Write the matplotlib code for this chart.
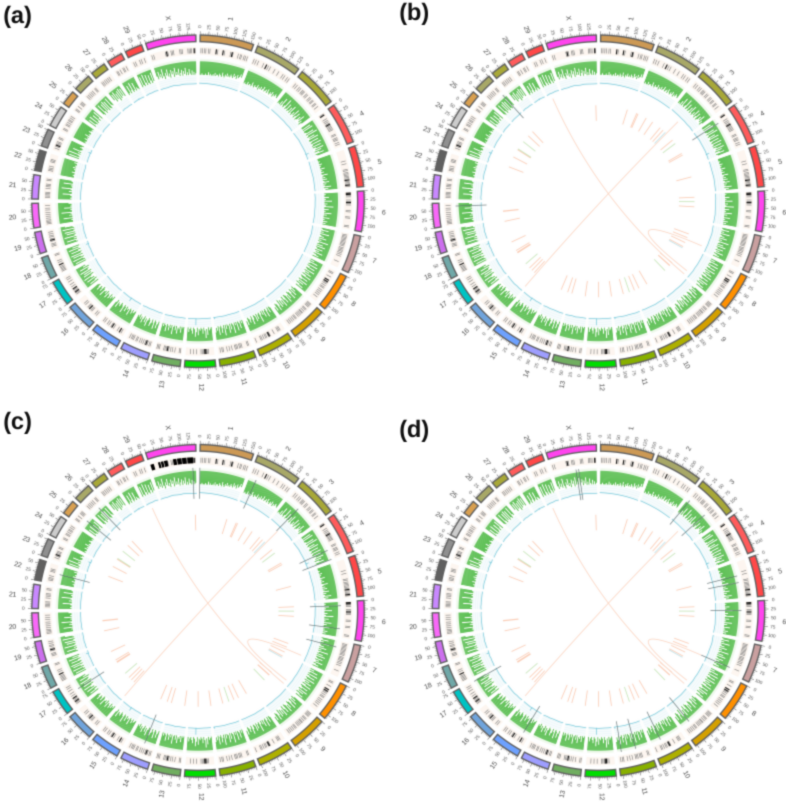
import numpy as np
import matplotlib
matplotlib.use("Agg")
import matplotlib.pyplot as plt

plt.rcParams['font.family'] = ['Liberation Sans', 'DejaVu Sans']

W, H = 787, 803
RMAX = 195.0

chrom_names = ['1','2','3','4','5','6','7','8','9','10','11','12','13','14','15','16','17','18','19','20',
               '21','22','23','24','25','26','27','28','29','X']
chrom_mb = [158,137,121,121,121,119,112,113,105,104,107,91,84,84,85,81,75,66,64,72,71,61,52,62,43,52,45,46,51,148]
chrom_colors = ['#CC9955','#A8A868','#A8A838','#FF5C5C','#FF4848','#FF44EE','#C9A0A0','#FF9000','#D4A000','#AEB000',
                '#88B000','#00DD00','#70AE60','#9E9EFF','#6EA2FF','#70A4DC','#00C4C4','#70A8A8','#CC70EE','#F868F8',
                '#C888FF','#606060','#909090','#CCCCCC','#D9A050','#A8A868','#A8A838','#FF5C5C','#FF4848','#FF44EE']

panel_names = ['(a)', '(b)', '(c)', '(d)']
panel_cx = [198.0, 598.5, 198.0, 598.5]
panel_cy = [201.5, 201.5, 611.0, 611.0]
label_x = [3, 399, 3, 399]
label_y = [17, 14, 423, 431]

# Green histogram track: one depth level (0-9) per step along each chromosome
green_1 = [9,9,8,9,9,9,8,9,9,7,9,8,9,9,8,9,7,9,8,8,9,7,8,9,6,8,9,7,8,6,8,7,8,6,7,8,5,7,6,8,5,7,6,4,6]
green_2 = [9,8,9,9,7,9,8,8,9,6,8,9,7,8,8,6,9,7,8,6,8,7,5,8,7,6,8,5,7,8,6,7,5,8,6,7,5,6,7]
green_3 = [9,8,9,6,9,3,8,9,7,2,9,8,4,9,8,5,9,3,8,9,6,8,3,9,7,4,9,8,5,7,3,8,6,9,7]
green_4 = [9,9,3,9,2,9,9,8,3,9,1,8,9,4,8,2,9,9,3,8,9,2,8,9,3,9,7,2,8,4,9,6,3,9,8]
green_5 = [9,9,9,8,9,9,7,9,8,9,9,6,9,8,9,7,9,9,5,8,9,7,9,6,9,8,5,9,7,9,8,4,9,6,8]
green_6 = [9,8,9,9,6,9,8,9,4,9,9,7,9,8,3,9,9,6,9,8,9,4,9,7,9,9,5,9,8,9,6,9,7,9]
green_7 = [9,8,4,9,7,9,3,9,8,6,9,4,9,7,9,2,8,9,5,9,3,9,8,4,9,6,8,3,9,7,5,9]
green_8 = [9,6,9,3,8,9,2,9,7,3,9,8,2,9,5,8,3,9,6,2,9,8,3,7,9,2,8,4,9,6,3,8]
green_9 = [7,9,5,8,3,9,6,2,8,9,4,7,2,8,9,3,6,9,2,7,4,8,3,9,5,2,7,8,3,6]
green_10 = [8,9,5,9,7,3,9,8,4,9,6,9,7,2,9,8,5,9,4,8,9,6,3,9,7,5,8,9,4,7]
green_11 = [9,7,9,4,8,9,3,9,7,9,2,8,9,5,9,3,8,9,6,9,2,9,7,4,9,8,3,9,6,8,5]
green_12 = [9,8,7,9,4,8,2,7,9,5,8,9,7,8,4,9,6,3,8,9,5,7,9,8,6,9]
green_13 = [9,8,9,5,9,7,8,4,9,6,9,8,3,9,7,9,5,8,9,4,8,9,7,9]
green_14 = [9,7,4,8,9,3,7,9,6,4,8,9,7,3,8,5,9,7,4,8,6,9,7,8]
green_15 = [9,8,7,9,6,8,9,4,8,7,9,5,8,9,3,7,8,9,6,7,8,4,9,7]
green_16 = [9,7,8,6,9,5,7,8,4,9,6,8,7,3,8,9,5,7,8,4,6,8,7]
green_17 = [9,3,7,9,2,8,6,1,7,9,2,8,3,9,1,7,8,2,9,5,7]
green_18 = [9,2,9,8,1,9,7,2,9,1,8,9,2,7,9,1,8,4,9]
green_19 = [9,8,2,9,7,9,1,8,9,3,9,2,8,9,1,9,8,3]
green_20 = [9,9,8,9,3,9,9,7,9,8,2,9,9,8,9,4,9,8,9,9,7]
green_21 = [9,8,9,9,8,3,9,9,7,9,8,2,9,9,8,9,3,9,9,8]
green_22 = [9,9,8,9,9,7,9,9,8,9,7,9,8,9,9,7,9]
green_23 = [9,2,9,8,1,9,7,9,3,8,9,9,7,8,9]
green_24 = [9,8,9,9,7,9,8,9,6,9,8,9,9,7,8,9,8,9]
green_25 = [9,3,8,9,2,9,8,3,9,7,2,9]
green_26 = [8,9,1,7,9,2,8,1,9,2,8,9,1,7,8]
green_27 = [6,2,8,1,7,3,9,2,8,1,7,2,8]
green_28 = [9,8,3,9,7,2,9,8,3,9,7,8,9]
green_29 = [9,2,8,9,1,7,9,2,8,9,3,7,9,2,8]
green_X = [6,8,3,7,5,8,2,7,9,5,7,3,8,6,9,4,7,5,9,3,8,6,8,4,9,7,5,9,6,8,4,9,7,9,5,8,9,6,9,7,9,8]
green_tracks = [green_1,green_2,green_3,green_4,green_5,green_6,green_7,green_8,green_9,green_10,green_11,green_12,
                green_13,green_14,green_15,green_16,green_17,green_18,green_19,green_20,green_21,green_22,green_23,
                green_24,green_25,green_26,green_27,green_28,green_29,green_X]

# Barcode track: positions in Mb
bar_1 = [3,8,14,19,27,32,52,57,74,79,98,103,106,123,130,134,142,147,153]
bar_2 = [5,12,20,38,48,55,62,78,92,108,115,125,132]
bar_3 = [8,15,24,30,38,42,46,55,60,70,75,82,86,95,99,108]
bar_4 = [4,8,22,28,33,38,42,46,50,54,58,62,78,82,90,94,98,106,112]
bar_5 = [35,44,62,66,72,76,80,84,88,92,96,100,104,108,112,116]
bar_6 = [4,8,12,16,26,30,34,38,42,60,64,80,84,108,112]
bar_7 = [6,10,14,18,22,26,30,34,38,42,48,52,56,60,65,70,76,94]
bar_8 = [8,12,24,36,42,46,50,56,62,66,74,80,86,92,100]
bar_9 = [5,9,13,17,26,30,36,42,45,50,55,60,68,72,78,84,90,96]
bar_10 = [14,18,22,36,50,53,56,62,66,72,78,82,98]
bar_11 = [8,12,30,34,38,44,48,52,62,70,78,90,94,100]
bar_12 = [18,22,26,30,34,38,42,56,66,76]
bar_13 = [4,8,22,30,36,42,46,50,54,58,72,76,80]
bar_14 = [6,10,16,20,24,30,36,42,50,54,62,66,70,76]
bar_15 = [10,16,24,38,44,48,56,62,72,78]
bar_16 = [8,14,28,32,38,42,46,56,62]
bar_17 = [6,10,14,18,22,26,34,42,52,60,66]
bar_18 = [4,8,12,16,20,26,34,40,58,62]
bar_19 = [10,14,18,26,30,34,40,44,50,56]
bar_20 = [6,10,14,18,24,30,36,42,50,56,64]
bar_21 = [6,10,14,18,22,34,40,44,48,60,64]
bar_22 = [8,12,16,22,36,40,44]
bar_23 = [8,14,18,22,26,30,40,44]
bar_24 = [8,12,24,28,34,40,44,50,56]
bar_25 = [6,10,20,30,34,38]
bar_26 = [6,12,18,24,30,40,44]
bar_27 = [5,10,16,22,28,34]
bar_28 = [6,10,18,28,32,40]
bar_29 = [8,14,28,34,44]
bar_X = [6,12,50,54,58,68,72,76,96,100,104,122,126,130,134,142,145]
bar_tracks = [bar_1,bar_2,bar_3,bar_4,bar_5,bar_6,bar_7,bar_8,bar_9,bar_10,bar_11,bar_12,bar_13,bar_14,bar_15,
              bar_16,bar_17,bar_18,bar_19,bar_20,bar_21,bar_22,bar_23,bar_24,bar_25,bar_26,bar_27,bar_28,bar_29,bar_X]
dark_chrom = [1,1,1,2,4,4,5,5,6,6,6,8,8,10,12,12,13,14,15,15,16,17,17,18,19,23,30,30]
dark_mb = [52,74,103,48,8,42,96,112,4,8,34,36,42,53,26,30,46,20,16,44,38,14,26,26,30,18,54,142]

# Panel (c): the heavy black blocks on chromosome X
c_x_start = [2,27,36,46,75,88,104,120]
c_x_end = [13,34,44,57,86,102,118,139]

# Blue line track: height above the inner edge of its ring
blue_1 = [1.6,1.5,1.4,1.3,1.2,1.1,1.0,0.9,0.8,0.7]
blue_2 = [1.2,1.0,0.9,0.8,0.8,0.7,0.6,0.6]
blue_3 = [1.0,0.8,0.8,0.7,0.9,0.7,1.1,0.8]
blue_4 = [0.8,1.0,1.4,1.2,1.3,1.4,1.2,1.0]
blue_5 = [1.2,1.0,0.9,1.0,1.2,1.0,0.9,1.0]
blue_6 = [0.6,0.8,0.6,0.7,0.6,0.9,0.7,0.6]
blue_7 = [0.8,1.0,1.4,1.2,1.0,1.1,0.9,1.0]
blue_8 = [0.7,0.8,0.8,0.9,0.7,1.0,0.8,0.7]
blue_9 = [0.9,1.0,1.2,1.0,0.8,1.0,0.9,1.1]
blue_10 = [0.8,1.0,0.9,1.2,1.0,0.9,1.0,0.8]
blue_11 = [1.0,1.2,1.0,0.9,1.1,1.0,0.8,1.0]
blue_12 = [1.0,1.0,0.9,1.0,1.1,1.0,0.9,1.0]
blue_13 = [1.2,1.0,1.0,1.4,1.0,1.2,1.5]
blue_14 = [1.0,1.2,1.0,0.9,1.2,1.0,1.4]
blue_15 = [1.2,1.0,1.2,1.0,1.3,1.2,1.1,1.0]
blue_16 = [1.0,1.2,1.0,1.4,1.2,1.0,0.9]
blue_17 = [1.0,1.4,1.2,1.0,1.2,1.0,0.9]
blue_18 = [1.4,1.2,1.2,1.0,1.4,1.0,0.9]
blue_19 = [1.0,1.2,1.1,1.4,1.2,1.0,1.0,0.9]
blue_20 = [0.8,1.0,0.9,1.1,0.9,1.0,0.8]
blue_21 = [0.9,1.2,1.0,1.1,1.0,1.0,1.1,0.9]
blue_22 = [0.8,1.0,1.2,1.0,0.9,1.4]
blue_23 = [1.0,1.1,1.4,1.2,1.4,1.0,1.2]
blue_24 = [0.9,1.0,1.2,1.0,0.9,1.0]
blue_25 = [1.0,1.4,1.2,1.0,0.9]
blue_26 = [1.0,1.2,1.0,0.9,1.2]
blue_27 = [0.9,1.4,1.0,1.2,0.9]
blue_28 = [1.0,1.2,1.5,1.2,1.0]
blue_29 = [1.0,1.4,1.2,1.6,1.2]
blue_X = [1.0,1.2,1.0,1.4,1.6,1.2,1.0,1.4,1.2,1.0,0.9,1.0]
blue_tracks = [blue_1,blue_2,blue_3,blue_4,blue_5,blue_6,blue_7,blue_8,blue_9,blue_10,blue_11,blue_12,blue_13,
               blue_14,blue_15,blue_16,blue_17,blue_18,blue_19,blue_20,blue_21,blue_22,blue_23,blue_24,blue_25,
               blue_26,blue_27,blue_28,blue_29,blue_X]
spike_chrom = [4,11,12,15,18,23,28]
spike_mb = [100,104,60,45,56,39,23]
spike_height = [4.0,2.5,7.5,4.5,3.5,3.5,2.0]

# Inner tiles (panels b, c, d): chromosome number, Mb, kind (0 orange, 1 green, 2 blue)
tile_chrom = [30,1,2,2,2,2,3,3,3,3,3,4,4,5,6,6,6,7,7,7,8,8,8,9,9,9,10,10,10,11,11,11,12,13,13,14,14,
              16,16,16,16,17,17,17,18,19,20,20,23,24,24,24,25,26,26]
tile_mb = [141,141,21,28,74,112,10,29,45,98,120,46,55,40,10,32,58,66,86,113,11,18,110,1,3,37,33,78,103,13,45,106,51,15,84,9,44,
           72,44,27,10,61,51,47,22,53,27,29,13,3,45,50,20,3,33]
tile_kind = [0,0,0,0,0,0,0,0,2,0,1,0,0,0,0,1,0,0,0,0,0,2,0,0,0,1,0,0,0,1,0,0,0,0,0,0,0,
             1,0,0,0,0,0,0,0,0,0,0,0,0,0,1,1,0,0]

# Links: start chromosome/Mb to end chromosome/Mb
link_chrom_a = [29, 3, 7]
link_mb_a = [16, 52, 95]
link_chrom_b = [8, 16, 8]
link_mb_b = [113, 0, 95]

# Dark radial lines per panel
radial_chrom_b = [26,20,4]
radial_mb_b = [45,62,19]
radial_chrom_c = [30,1,2,3,4,4,6,6,7,26,25,22,17,14]
radial_mb_c = [137,0,25,48,87,120,13,91,22,29,25,33,43,36]
radial_chrom_d = [30,30,3,3,5,5,6,7,9,10,11,11,15,17]
radial_mb_d = [78,87,7,77,45,68,29,95,75,72,44,94,21,72]
radial_chroms = [[], radial_chrom_b, radial_chrom_c, radial_chrom_d]
radial_mbs = [[], radial_mb_b, radial_mb_c, radial_mb_d]

GAP = 1.5
SCALE = (360 - GAP * len(chrom_mb)) / sum(chrom_mb)
starts = []
_t = GAP / 2
for _m in chrom_mb:
    starts.append(_t)
    _t += _m * SCALE + GAP
starts = np.array(starts)

def th(chrom_idx, mb):
    return np.deg2rad(starts[chrom_idx] + np.asarray(mb, dtype=float) * SCALE)

def text_rot(deg):
    phi = 90 - deg
    return phi if np.cos(np.deg2rad(deg - 90)) >= 0 else phi + 180

def arc(ax, t0, t1, r, **kw):
    ax.plot(np.linspace(t0, t1, 30), np.full(30, r), **kw)

fig = plt.figure(figsize=(W / 100, H / 100), dpi=100, facecolor='white')

def link_curve(ax, t0, t1):
    r = 112.0
    p0 = np.array([r * np.sin(t0), r * np.cos(t0)])
    p1 = np.array([r * np.sin(t1), r * np.cos(t1)])
    if abs(t1 - t0) < np.deg2rad(40):
        q = 41.0
        c1 = np.array([q * np.sin(t0), q * np.cos(t0)])
        c2 = np.array([q * np.sin(t1), q * np.cos(t1)])
    else:
        c1 = p0 / 3.0
        c2 = p1 / 3.0
    u = np.linspace(0, 1, 80)[:, None]
    pts = (1-u)**3 * p0 + 3*(1-u)**2*u * c1 + 3*(1-u)*u**2 * c2 + u**3 * p1
    ax.plot(np.arctan2(pts[:, 0], pts[:, 1]), np.hypot(pts[:, 0], pts[:, 1]),
            color='#FBD4C0', lw=0.55, zorder=4)

for p, name in enumerate(panel_names):
    cx, cy = panel_cx[p], panel_cy[p]
    ax = fig.add_axes([(cx - RMAX) / W, 1 - (cy + RMAX) / H, 2 * RMAX / W, 2 * RMAX / H], projection='polar')
    ax.set_theta_zero_location('N')
    ax.set_theta_direction(-1)
    ax.set_ylim(0, RMAX)
    ax.axis('off')
    ax.patch.set_alpha(0)

    for i, mb in enumerate(chrom_mb):
        t0 = th(i, 0)
        t1 = th(i, mb)
        wid = t1 - t0
        mid = (t0 + t1) / 2
        # chromosome band
        ax.bar(mid, 6.6, width=wid, bottom=159.6, color=chrom_colors[i], edgecolor='#606060', linewidth=1.0, zorder=3)
        # ticks and tick labels
        minor = np.arange(0, mb + 0.1, 5)
        major = np.arange(0, mb + 0.1, 25)
        ax.vlines(th(i, minor), 166.5, 168.3, color='#888888', lw=0.3, zorder=2)
        ax.vlines(th(i, major), 166.5, 170.0, color='#666666', lw=0.4, zorder=2)
        for m in major:
            tt = th(i, m)
            ax.text(tt, 175, f'{int(m)}', fontsize=3.4, color='#555555', ha='center', va='center',
                    rotation=text_rot(np.rad2deg(tt)), rotation_mode='anchor', clip_on=False)
        ax.text(mid, 186, chrom_names[i], fontsize=5.0, color='#444444', ha='center', va='center',
                rotation=text_rot(np.rad2deg(mid)), rotation_mode='anchor', clip_on=False)
        # barcode ring
        ax.bar(mid, 8.0, width=wid, bottom=146.5, color='#FDF6F0', linewidth=0, zorder=1)
        pos = np.array(bar_tracks[i], dtype=float)
        ax.vlines(th(i, pos), 148.0, 153.0, color='#808080', lw=0.45, zorder=2, capstyle='butt')
        # green ring border and bars
        ax.bar(mid, 2.2, width=wid, bottom=140.2, color='#EFF9EC', linewidth=0, zorder=1)
        g = np.array(green_tracks[i], dtype=float)
        gpos = (np.arange(len(g)) + 0.5) / len(g) * mb
        ax.vlines(th(i, gpos), 140.0 - 13.5 * g / 9.0, 140.0, color='#48B83E', lw=0.58, zorder=2, capstyle='butt')
        # blue ring
        ax.bar(mid, 9.0, width=wid, bottom=116.5, color='#F8FCFD', linewidth=0, zorder=1)
        for rr in (118.8, 121.0, 123.2, 125.4):
            arc(ax, t0, t1, rr, color='#E2F4F7', lw=0.3, zorder=1.5)
        b = np.array(blue_tracks[i], dtype=float)
        bpos = np.arange(len(b)) / (len(b) - 1) * mb
        ax.plot(th(i, bpos), 116.5 + b, color='#74C8DA', lw=0.5, zorder=2.5)

    for c, m, h in zip(spike_chrom, spike_mb, spike_height):
        ax.vlines(th(c - 1, m), 117.0, 116.5 + h, color='#74C8DA', lw=0.5, zorder=2.5)

    # dark barcode marks
    for c, m in zip(dark_chrom, dark_mb):
        ax.vlines(th(c - 1, m), 148.0, 153.0, color='#111111', lw=0.8, zorder=2.2, capstyle='butt')
    if p == 2:
        for s, e in zip(c_x_start, c_x_end):
            ax.bar(th(29, (s + e) / 2), 6.0, width=(e - s) * np.deg2rad(SCALE), bottom=147.5,
                   color='#000000', linewidth=0, zorder=2.3)

    if p > 0:
        tile_colors = ['#FBCDB6', '#C8E6BA', '#C2E3E9']
        for c, m, k in zip(tile_chrom, tile_mb, tile_kind):
            ax.vlines(th(c - 1, m), 80.5, 96.0, color=tile_colors[k], lw=0.6, zorder=4, capstyle='butt')
        for ca, ma, cb, mbb in zip(link_chrom_a, link_mb_a, link_chrom_b, link_mb_b):
            link_curve(ax, float(th(ca - 1, ma)), float(th(cb - 1, mbb)))
        for c, m in zip(radial_chroms[p], radial_mbs[p]):
            ax.vlines(th(c - 1, m), 112, 143, color='#6E7C7E', lw=0.5, zorder=5, capstyle='butt')

    fig.text(label_x[p] / W, 1 - label_y[p] / H, name, fontsize=17, fontweight='bold', color='#111111',
             ha='left', va='center')

fig.savefig('out.png', dpi=100, facecolor='white')

# Re-render at 4x and average down, so the dense tracks antialias smoothly like the reference
SS = 4
fig.savefig('hi.png', dpi=100 * SS, facecolor='white')
hi = plt.imread('hi.png')[..., :3]
pad_y = max(0, H * SS - hi.shape[0])
pad_x = max(0, W * SS - hi.shape[1])
hi = np.pad(hi, ((0, pad_y), (0, pad_x), (0, 0)), mode='edge')[:H * SS, :W * SS]
low = hi.reshape(H, SS, W, SS, 3).mean(axis=(1, 3))
kernel = [0.18, 0.64, 0.18]
low = np.apply_along_axis(lambda v: np.convolve(v, kernel, mode='same'), 0, low)
low = np.apply_along_axis(lambda v: np.convolve(v, kernel, mode='same'), 1, low)
low[0, :] = low[-1, :] = 1.0
low[:, 0] = low[:, -1] = 1.0
plt.imsave('out.png', np.clip(low, 0, 1))
